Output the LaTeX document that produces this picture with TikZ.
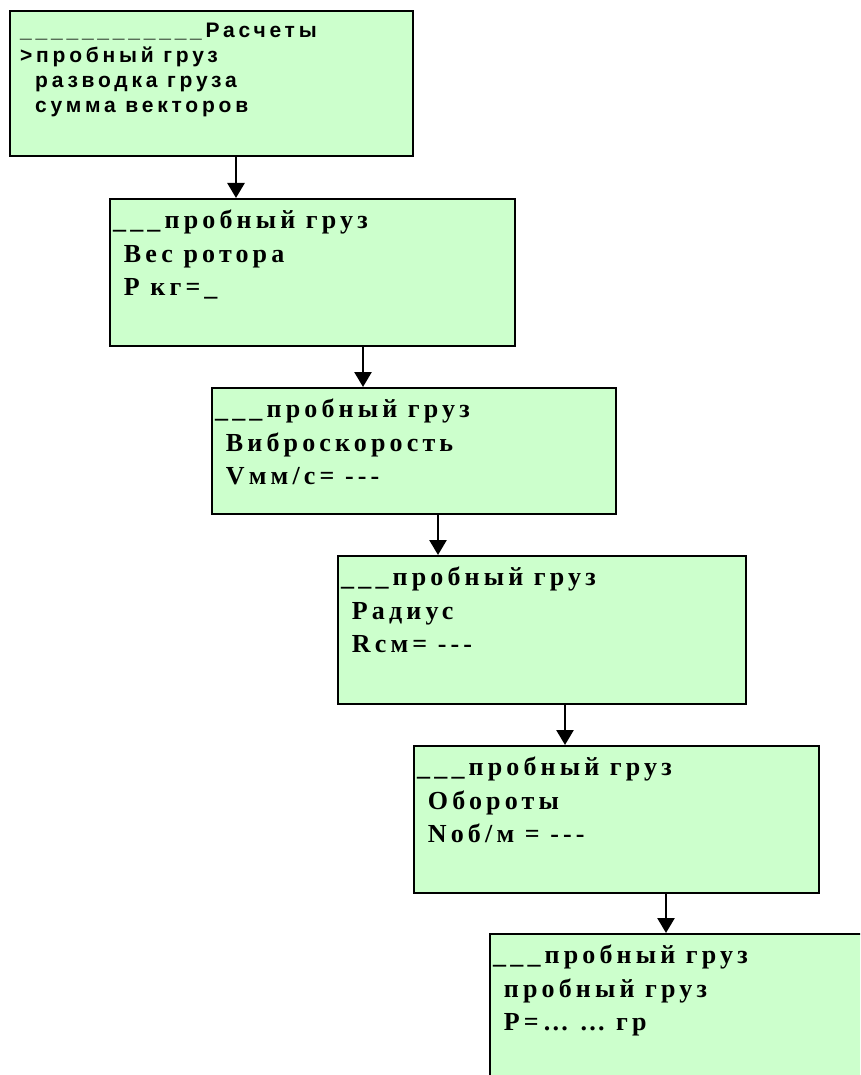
\documentclass[tikz,border=0pt]{standalone}
\usepackage{fontspec}
\usetikzlibrary{arrows.meta}
\newfontfamily\scrsans[LetterSpace=18]{Liberation Sans}
\newfontfamily\scrserif[LetterSpace=16]{Liberation Serif}
\definecolor{scrgreen}{HTML}{CCFFCC}
\tikzset{
  x=1pt, y=-1pt,
  scrbox/.style args={#1x#2}{draw, line width=2.3pt, fill=scrgreen, anchor=north west,
    inner sep=0pt, minimum width=#1pt, minimum height=#2pt},
  sanstext/.style={anchor=north west, inner sep=0pt, align=left,
    font=\scrsans\bfseries\fontsize{21}{25}\selectfont},
  seriftext/.style={anchor=north west, inner sep=0pt, align=left,
    font=\scrserif\bfseries\fontsize{26}{33.5}\selectfont},
  arr/.style={line width=2.6pt, -{Triangle[width=17pt,length=15pt]}}
}
\begin{document}
\begin{tikzpicture}
\useasboundingbox (0,0) rectangle (860,1075);
\clip (0,0) rectangle (860,1075);
% boxes
\node[scrbox=403x145] (b1) at (9,10) {};
\node[scrbox=405x147] (b2) at (109,198) {};
\node[scrbox=404x126] (b3) at (211,387) {};
\node[scrbox=408x148] (b4) at (337,555) {};
\node[scrbox=405x147] (b5) at (413,745) {};
\node[scrbox=400x200] (b6) at (489,933) {};
% texts
\node[sanstext] (t1) at (20,23) {\_\_\_\_\_\_\_\_\_\_\_\_Расчеты\\>пробный груз\\\hspace*{15pt}разводка груза\\\hspace*{15pt}сумма векторов};
\node[seriftext] (t2) at (113,210) {\_\_\_пробный груз\\~Вес ротора\\~Р кг=\_};
\node[seriftext] (t3) at (215,399) {\_\_\_пробный груз\\~Виброскорость\\~Vмм/с= ---};
\node[seriftext] (t4) at (341,567) {\_\_\_пробный груз\\~Радиус\\~Rсм= ---};
\node[seriftext] (t5) at (417,757) {\_\_\_пробный груз\\~Обороты\\~Nоб/м = ---};
\node[seriftext] (t6) at (493,945) {\_\_\_пробный груз\\~пробный груз\\~Р=\ldots\ \ldots\ гр};
% connectors
\coordinate (a1) at (236,0);
\coordinate (a2) at (363,0);
\coordinate (a3) at (438,0);
\coordinate (a4) at (565,0);
\coordinate (a5) at (666,0);
\draw[arr] (b1.south -| a1) -- (b2.north -| a1);
\draw[arr] (b2.south -| a2) -- (b3.north -| a2);
\draw[arr] (b3.south -| a3) -- (b4.north -| a3);
\draw[arr] (b4.south -| a4) -- (b5.north -| a4);
\draw[arr] (b5.south -| a5) -- (b6.north -| a5);
\end{tikzpicture}
\end{document}
